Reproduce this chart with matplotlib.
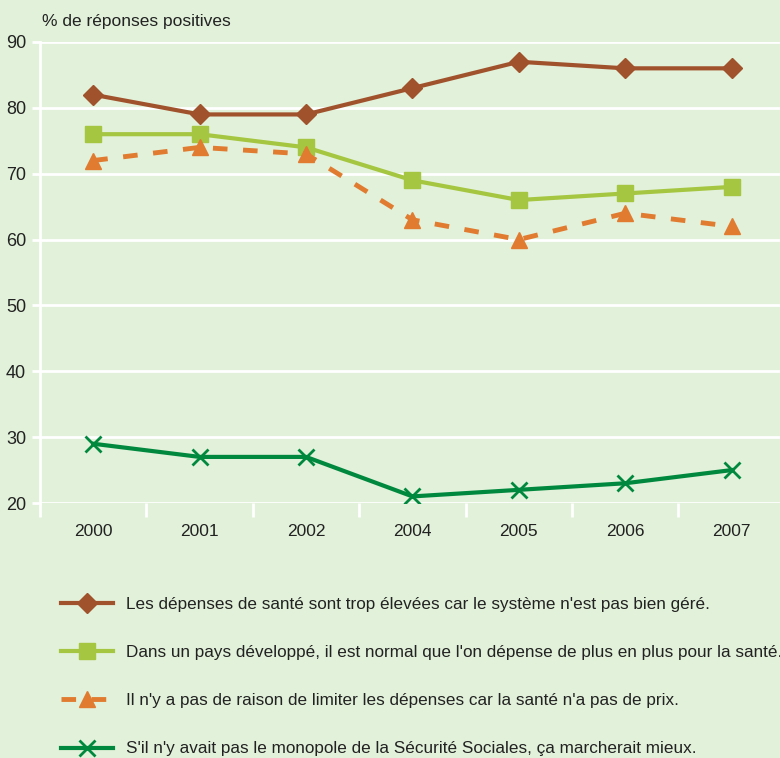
from matplotlib import pyplot as plt

plt.rcParams['font.family'] = ['Liberation Sans Narrow', 'Liberation Sans', 'DejaVu Sans']

annees = ['2000', '2001', '2002', '2004', '2005', '2006', '2007']
mal_gere = [82, 79, 79, 83, 87, 86, 86]
normal = [76, 76, 74, 69, 66, 67, 68]
pas_de_prix = [72, 74, 73, 63, 60, 64, 62]
monopole = [29, 27, 27, 21, 22, 23, 25]

labels = [
    "Les dépenses de santé sont trop élevées car le système n'est pas bien géré.",
    "Dans un pays développé, il est normal que l'on dépense de plus en plus pour la santé.",
    "Il n'y a pas de raison de limiter les dépenses car la santé n'a pas de prix.",
    "S'il n'y avait pas le monopole de la Sécurité Sociales, ça marcherait mieux.",
]

bg = '#e2f1d9'
fig = plt.figure(figsize=(7.8, 7.58), dpi=100, facecolor=bg)
ax = fig.add_axes([0.0513, 0.3364, 0.955, 0.6082], facecolor=bg)

x = range(len(annees))
ax.plot(x, mal_gere, color='#a0522d', lw=3, marker='D', ms=10, label=labels[0])
ax.plot(x, normal, color='#a5c640', lw=3, marker='s', ms=12, label=labels[1])
ax.plot(x, pas_de_prix, color='#e07b30', lw=3.5, ls=(0, (3, 3.2)), marker='^', ms=12,
        label=labels[2])
ax.plot(x, monopole, color='#00893e', lw=3, marker='x', ms=12, mew=2, label=labels[3])

ax.set_ylim(20, 90)
ax.set_xlim(-0.5, 6.5)
ax.set_yticks(range(20, 91, 10))
ax.yaxis.grid(True, color='white', lw=2)
ax.set_axisbelow(True)

# graduations entre les années, libellés centrés
ax.set_xticks([i - 0.5 for i in range(8)])
ax.set_xticklabels([])
ax.set_xticks(list(x), minor=True)
ax.set_xticklabels(annees, minor=True)
ax.tick_params(axis='x', which='major', length=10, width=2, color='white', direction='out')
ax.tick_params(axis='x', which='minor', length=0, pad=15, labelsize=12.5, labelcolor='#222222')
ax.tick_params(axis='y', length=6, width=2, color='white', pad=4, labelsize=13, labelcolor='#222222')

for s in ['top', 'right', 'bottom']:
    ax.spines[s].set_visible(False)
ax.spines['left'].set_color('white')
ax.spines['left'].set_linewidth(2)
ax.spines['left'].set_bounds(20, 90)

fig.text(0.054, 0.972, '% de réponses positives', fontsize=12.5, color='#222222',
         ha='left', va='center')

fig.legend(loc='upper left', bbox_to_anchor=(0.07, 0.222), frameon=False,
           fontsize=12.3, labelspacing=1.95, handlelength=3.0, handletextpad=0.8,
           borderaxespad=0, labelcolor='#222222')

plt.savefig('out.png', dpi=100, facecolor=bg)
